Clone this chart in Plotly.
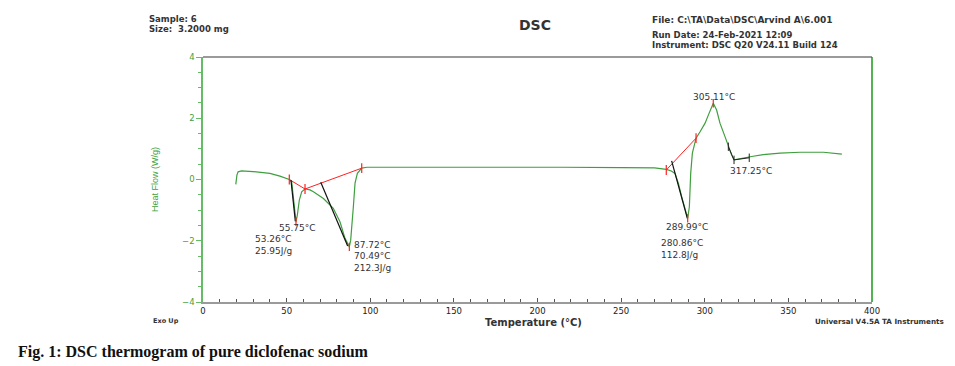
import plotly.graph_objects as go

# ---- data ----
temperature = [19.6, 20.3, 21, 23, 30, 40, 46, 50, 51.6, 53, 54, 55.0, 55.6, 56.4, 57.6, 59, 61, 64,
               66, 72, 77.9, 81.9, 84.9, 87.5, 88.3, 89.9, 90.9, 92.3, 94.9, 98, 110, 140, 160, 200,
               215, 250, 270, 277, 280, 282.2, 284.2, 286.2, 288.2, 289.8, 290.8, 291.6, 292.6, 293.8,
               294.8, 297.2, 300.2, 302.2, 304.2, 305.1, 307.1, 309.1, 312.1, 314.1, 316.1, 317.5, 320,
               328, 335, 345, 357, 371, 382]
heat_flow = [-0.16, 0.15, 0.25, 0.28, 0.26, 0.2, 0.11, 0.04, 0.0, -0.07, -0.56, -1.2, -1.38, -1.16, -0.67,
             -0.4, -0.31, -0.34, -0.4, -0.62, -0.94, -1.38, -1.92, -2.2, -1.98, -0.89, -0.12, 0.2, 0.37,
             0.4, 0.40, 0.40, 0.42, 0.42, 0.40, 0.39, 0.38, 0.33, 0.28, 0.2, -0.12, -0.56, -1.0, -1.27,
             -0.89, 0.2, 0.86, 1.18, 1.35, 1.56, 1.84, 2.11, 2.38, 2.49, 2.27, 1.84, 1.4, 1.07, 0.8, 0.64,
             0.67, 0.75, 0.81, 0.86, 0.89, 0.89, 0.83]

# integration baselines (red)
base1_t = [51.6, 61, 94.9]
base1_hf = [0.0, -0.31, 0.37]
base2_t = [277, 294.8]
base2_hf = [0.31, 1.35]
# onset tangents (black)
tan1_t = [52.6, 55.2]
tan1_hf = [-0.02, -1.36]
tan2_t = [70.4, 86.5]
tan2_hf = [-0.09, -2.17]
tan3_t = [280.2, 289.6]
tan3_hf = [0.61, -1.27]
tan4_t = [314.1, 317.5, 326.6]
tan4_hf = [1.07, 0.64, 0.71]
peak_t = [55.6, 87.5, 289.8, 305.1]
peak_hf = [-1.38, -2.2, -1.27, 2.49]

peak_labels = ["55.75°C", "53.26°C<br>25.95J/g", "87.72°C", "70.49°C<br>212.3J/g",
               "305.11°C", "317.25°C", "289.99°C", "280.86°C<br>112.8J/g"]
label_t = [44.3, 29.9, 88.9, 88.9, 291.5, 314.0, 275.8, 272.8]
label_hf = [-1.58, -2.13, -2.14, -2.7, 2.71, 0.29, -1.54, -2.26]

GREEN = "#3f9f3f"
LBL = "DejaVu Sans"
fig = go.Figure()
fig.add_trace(go.Scatter(x=temperature, y=heat_flow, mode="lines",
                         line=dict(color=GREEN, width=1.2), hoverinfo="skip"))
for tx, hy in [(base1_t, base1_hf), (base2_t, base2_hf)]:
    fig.add_trace(go.Scatter(x=tx, y=hy, mode="lines+markers",
                             line=dict(color="#ff2020", width=1),
                             marker=dict(symbol="line-ns", size=7,
                                         line=dict(color="#ff2020", width=1.2))))
for tx, hy in [(tan1_t, tan1_hf), (tan2_t, tan2_hf), (tan3_t, tan3_hf)]:
    fig.add_trace(go.Scatter(x=tx, y=hy, mode="lines",
                             line=dict(color="#111111", width=1.2)))
fig.add_trace(go.Scatter(x=tan4_t, y=tan4_hf, mode="lines+markers",
                         line=dict(color="#222222", width=1),
                         marker=dict(symbol="line-ns", size=6,
                                     line=dict(color="#222222", width=1))))
fig.add_trace(go.Scatter(x=peak_t, y=peak_hf, mode="markers",
                         marker=dict(symbol="line-ns", size=6, line=dict(color="#ff2020", width=1.2))))

for txt, xt, yt in zip(peak_labels, label_t, label_hf):
    fig.add_annotation(x=xt, y=yt, text=txt, showarrow=False, xanchor="left", yanchor="middle",
                       align="left", font=dict(family=LBL, size=9, color="#333333"))

W, H = 955, 366
L, R, T, B = 203, 83, 57, 64
pw, ph = W - L - R, H - T - B
def px(x):
    return (x - L) / pw
def py(y):
    return (H - B - y) / ph

def paper_text(txt, x, y, size=8, xanchor="left", color="#333333", family=LBL):
    fig.add_annotation(xref="paper", yref="paper", x=px(x), y=py(y), text=txt, showarrow=False,
                       xanchor=xanchor, yanchor="middle", align="left",
                       font=dict(family=family, size=size, color=color))

paper_text("<b>Sample: 6</b>", 147, 19.5, size=8.5)
paper_text("<b>Size:  3.2000 mg</b>", 147, 29.5, size=8.5)
paper_text("<b>DSC</b>", 535, 25, size=14, xanchor="center")
paper_text("<b>File: C:\\TA\\Data\\DSC\\Arvind A\\6.001</b>", 650, 20, size=9)
paper_text("<b>Run Date: 24-Feb-2021 12:09</b>", 650, 35, size=8.5)
paper_text("<b>Instrument: DSC Q20 V24.11 Build 124</b>", 650, 45, size=8.5)
paper_text("<b>Exo Up</b>", 151, 321, size=6.5)
paper_text("<b>Temperature (°C)</b>", 533, 322, size=10, xanchor="center")
paper_text("<b>Universal V4.5A TA Instruments</b>", 946, 321, size=7.2, xanchor="right")
paper_text("<b>Fig. 1: DSC thermogram of pure diclofenac sodium</b>", 16, 352, size=16,
           color="#111111", family="Liberation Serif")

fig.update_layout(
    width=W, height=H, autosize=False,
    margin=dict(l=L, r=R, t=T, b=B),
    paper_bgcolor="white", plot_bgcolor="white",
    showlegend=False,
    xaxis=dict(range=[0, 400], tickvals=[0, 50, 100, 150, 200, 250, 300, 350, 400],
               showgrid=False, zeroline=False, showline=True, linecolor="#9a9a9a", linewidth=1.5,
               mirror=False, ticks="inside", ticklen=4, tickcolor="#555555",
               minor=dict(dtick=10, ticks="inside", ticklen=3, tickcolor="#555555"),
               tickfont=dict(family=LBL, size=8.5, color="#222222")),
    yaxis=dict(range=[-4, 4], tickvals=[-4, -2, 0, 2, 4], showgrid=False, zeroline=False,
               showline=True, linecolor="#66bb66", linewidth=1.5, ticks="outside", ticklen=5,
               tickcolor="#66bb66",
               minor=dict(dtick=0.5, ticks="outside", ticklen=3, tickcolor="#66bb66"),
               tickfont=dict(family=LBL, size=8.5, color=GREEN),
               title=dict(text="Heat Flow (W/g)", standoff=22,
                          font=dict(family="Liberation Sans", size=9, color=GREEN))),
)
fig.add_shape(type="line", xref="paper", yref="paper", x0=0, x1=1, y0=1, y1=1,
              line=dict(color="#9a9a9a", width=2))
fig.add_shape(type="line", xref="paper", yref="paper", x0=1, x1=1, y0=0, y1=1,
              line=dict(color="#1a9a1a", width=1.5))

fig.write_html("out.html", config={"displayModeBar": False})
with open("out.html", encoding="utf-8") as f:
    html = f.read()
html = html.replace("<head>", "<head><style>html,body{margin:0;padding:0;}</style>", 1)
with open("out.html", "w", encoding="utf-8") as f:
    f.write(html)
